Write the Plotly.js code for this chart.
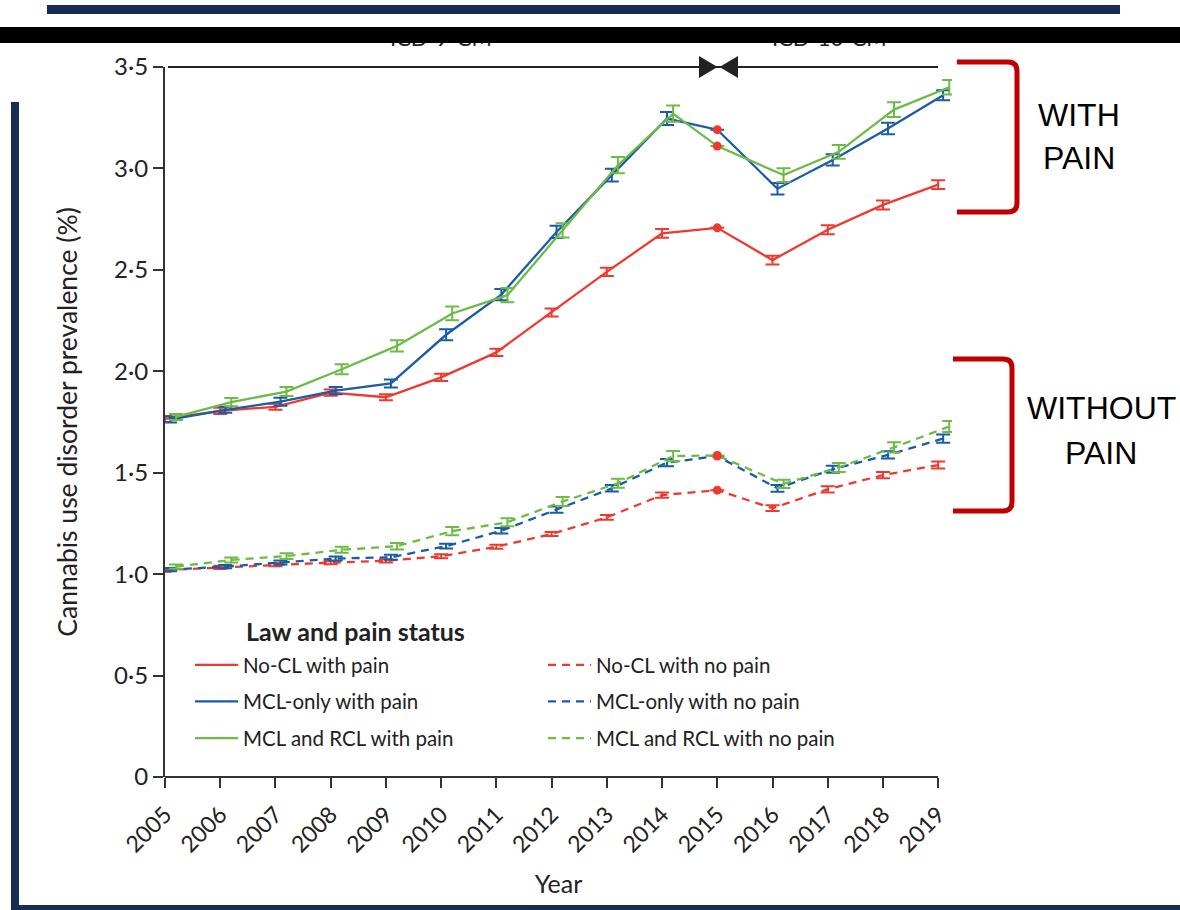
<!DOCTYPE html>
<html><head><meta charset="utf-8">
<script src="https://cdn.plot.ly/plotly-3.0.1.min.js"></script>
<style>html,body{margin:0;padding:0;background:#fff}#chart{width:1180px;height:910px}</style>
</head><body><div id="chart"></div>
<script>
// ---------- data ----------
const years = [2005,2006,2007,2008,2009,2010,2011,2012,2013,2014,2015,2016,2017,2018,2019];
const yTickVals = [0,0.5,1,1.5,2,2.5,3,3.5];
const yTickText = ['0','0·5','1·0','1·5','2·0','2·5','3·0','3·5'];

const noclPain   = [1.765,1.805,1.825,1.895,1.872,1.970,2.093,2.290,2.490,2.680,2.707,2.548,2.698,2.820,2.920];
const mclPain    = [1.762,1.810,1.850,1.905,1.940,2.180,2.378,2.687,2.967,3.246,3.191,2.900,3.042,3.197,3.361];
const rclPain    = [1.775,1.848,1.900,2.010,2.125,2.285,2.375,2.695,3.016,3.270,3.110,2.967,3.082,3.290,3.400];
const noclNoPain = [1.020,1.033,1.047,1.057,1.066,1.088,1.135,1.198,1.280,1.390,1.414,1.325,1.418,1.488,1.538];
const mclNoPain  = [1.022,1.037,1.057,1.077,1.083,1.138,1.214,1.318,1.423,1.550,1.582,1.423,1.517,1.588,1.668];
const rclNoPain  = [1.037,1.070,1.089,1.120,1.138,1.212,1.256,1.358,1.448,1.582,1.585,1.445,1.526,1.625,1.728];

// half-width of 95% CI (none drawn for 2015)
const noclPainErr   = [0.015,0.015,0.015,0.015,0.015,0.018,0.018,0.020,0.020,0.022,null,0.022,0.022,0.022,0.022];
const mclPainErr    = [0.015,0.015,0.020,0.018,0.020,0.027,0.028,0.030,0.032,0.032,null,0.028,0.028,0.028,0.025];
const rclPainErr    = [0.015,0.020,0.022,0.025,0.028,0.034,0.035,0.035,0.040,0.040,null,0.034,0.034,0.036,0.036];
const noclNoPainErr = [0.008,0.008,0.008,0.008,0.008,0.010,0.010,0.010,0.012,0.013,null,0.014,0.015,0.015,0.017];
const mclNoPainErr  = [0.008,0.008,0.010,0.010,0.012,0.012,0.014,0.015,0.016,0.018,null,0.017,0.017,0.018,0.020];
const rclNoPainErr  = [0.010,0.012,0.014,0.015,0.016,0.020,0.020,0.022,0.022,0.025,null,0.020,0.022,0.025,0.027];

const seriesNames = ['No-CL with pain','No-CL with no pain','MCL-only with pain','MCL-only with no pain','MCL and RCL with pain','MCL and RCL with no pain'];

// ---------- styles ----------
const RED = '#ee3a2e', BLUE = '#1a5da6', GREEN = '#6dbb45', DARKRED = '#c00000', NAVY = '#172d54';
const FONT = 'Lato, "Open Sans", sans-serif';
const TXT = '#222';

const L = 165, R = 228, T = 67, B = 133, WID = 1180, HEI = 910;
const W = WID - L - R, H = HEI - T - B;
const px = x => (x - L) / W;
const py = y => 1 - (y - T) / H;
const i2015 = years.indexOf(2015);

function dodge(off) { return years.map((y, i) => i === i2015 ? y : y + off); }

const defs = [
  {name: seriesNames[0], y: noclPain,   e: noclPainErr,   c: RED,   dash: 'solid', off: 0,    lg: 'legend'},
  {name: seriesNames[1], y: noclNoPain, e: noclNoPainErr, c: RED,   dash: '8px,6px', off: 0,  lg: 'legend2'},
  {name: seriesNames[2], y: mclPain,    e: mclPainErr,    c: BLUE,  dash: 'solid', off: 0.09, lg: 'legend'},
  {name: seriesNames[3], y: mclNoPain,  e: mclNoPainErr,  c: BLUE,  dash: '8px,6px', off: 0.09, lg: 'legend2'},
  {name: seriesNames[4], y: rclPain,    e: rclPainErr,    c: GREEN, dash: 'solid', off: 0.2,  lg: 'legend'},
  {name: seriesNames[5], y: rclNoPain,  e: rclNoPainErr,  c: GREEN, dash: '8px,6px', off: 0.2, lg: 'legend2'}
];

const traces = defs.map(d => ({
  type: 'scatter', mode: 'lines', name: d.name,
  x: dodge(d.off), y: d.y,
  line: {color: d.c, width: 2.3, dash: d.dash},
  error_y: {type: 'data', array: d.e, visible: true, color: d.c, thickness: 2, width: 7},
  legend: d.lg, legendgroup: d.name, cliponaxis: false, hoverinfo: 'x+y+name'
}));
// ICD transition points (2015) drawn as red dots
traces.push({
  type: 'scatter', mode: 'markers', showlegend: false, cliponaxis: false,
  x: defs.map(() => 2015), y: defs.map(d => d.y[i2015]),
  marker: {color: RED, size: 9}, hoverinfo: 'skip'
});

function rect(x0, y0, x1, y1, color) {
  return {type: 'rect', xref: 'paper', yref: 'paper', x0: px(x0), x1: px(x1), y0: py(y0), y1: py(y1),
          fillcolor: color, line: {width: 0}, layer: 'above'};
}
function pathPx(pts, opts) {
  const p = pts.map(s => s[0] === 'Z' ? 'Z' : s[0] + ' ' + s.slice(1).map((v, k) => (k % 2 === 0 ? px(v) : py(v)).toFixed(5)).join(',')).join(' ');
  return Object.assign({type: 'path', xref: 'paper', yref: 'paper', path: p, layer: 'above'}, opts);
}
function bracket(xl, xr, yt, yb) {
  const r = 9;
  return pathPx([['M', xl, yt], ['L', xr - r, yt], ['Q', xr, yt, xr, yt + r], ['L', xr, yb - r], ['Q', xr, yb, xr - r, yb], ['L', xl, yb]],
    {line: {color: DARKRED, width: 5}});
}

const shapes = [
  rect(47, 5, 1120, 14, NAVY),
  rect(11, 102, 19, 910, NAVY),
  rect(11, 905, 1180, 910, NAVY),
  // ICD period line at top
  {type: 'line', xref: 'paper', yref: 'paper', x0: px(168), x1: px(938), y0: py(67), y1: py(67), line: {color: '#222', width: 2}, layer: 'above'},
  pathPx([['M', 699, 56], ['L', 717.5, 67], ['L', 699, 78], ['Z']], {fillcolor: '#222', line: {width: 0}}),
  pathPx([['M', 738, 56], ['L', 719.5, 67], ['L', 738, 78], ['Z']], {fillcolor: '#222', line: {width: 0}}),
  // x axis line
  {type: 'line', xref: 'paper', yref: 'paper', x0: px(165), x1: px(938), y0: py(777), y1: py(777), line: {color: '#333', width: 2}, layer: 'above'},
  bracket(957, 1017, 62, 212),
  bracket(953, 1012, 359, 511)
];

function ann(text, x, y, size, opts) {
  return Object.assign({text: text, xref: 'paper', yref: 'paper', x: px(x), y: py(y), xanchor: 'center', yanchor: 'middle',
    showarrow: false, font: {family: FONT, size: size, color: TXT}}, opts || {});
}
const BIG = {family: '"Liberation Sans", Arial, sans-serif', size: 32, color: '#000'};
const annotations = [
  ann('ICD-9-CM', 441, 37, 22),
  ann('ICD-10-CM', 829, 37, 22),
  {text: ' ', xref: 'paper', yref: 'paper', x: px(0), y: py(27), xanchor: 'left', yanchor: 'top', showarrow: false,
   width: 1180, height: 16, bgcolor: '#000', borderpad: 0, borderwidth: 0, font: {size: 10}},
  ann('<b>Law and pain status</b>', 244, 631, 25, {xanchor: 'left'}),
  ann('WITH', 1079, 115, 32, {font: BIG}),
  ann('PAIN', 1079, 158, 32, {font: BIG}),
  ann('WITHOUT', 1101, 408, 32, {font: BIG}),
  ann('PAIN', 1101, 453, 32, {font: BIG})
];

const legendBase = {
  orientation: 'v', xanchor: 'left', yanchor: 'top', bgcolor: 'rgba(0,0,0,0)',
  font: {family: FONT, size: 20.5, color: TXT}, itemwidth: 43, tracegroupgap: 7, itemclick: false, itemdoubleclick: false
};

const layout = {
  width: WID, height: HEI,
  margin: {l: L, r: R, t: T, b: B},
  paper_bgcolor: '#fff', plot_bgcolor: '#fff',
  font: {family: FONT, size: 20, color: TXT},
  showlegend: true,
  legend: Object.assign({}, legendBase, {x: px(190), y: py(645)}),
  legend2: Object.assign({}, legendBase, {x: px(543), y: py(645)}),
  xaxis: {
    range: [2005, 2019.25], tickvals: years, ticktext: years.map(String), tickangle: -45,
    ticks: 'outside', ticklen: 10, tickwidth: 2, tickcolor: '#333', ticklabelstandoff: 4,
    showline: false, showgrid: false, zeroline: false,
    tickfont: {family: FONT, size: 23, color: TXT},
    title: {text: 'Year', font: {family: FONT, size: 25, color: TXT}, standoff: 18}
  },
  yaxis: {
    range: [0, 3.5], tickvals: yTickVals, ticktext: yTickText,
    ticks: 'outside', ticklen: 10, tickwidth: 2, tickcolor: '#333',
    showline: true, linewidth: 2, linecolor: '#333', showgrid: false, zeroline: false,
    tickfont: {family: FONT, size: 24, color: TXT},
    title: {text: 'Cannabis use disorder prevalence (%)', font: {family: FONT, size: 26.5, color: TXT}, standoff: 29}
  },
  shapes: shapes,
  annotations: annotations
};

Plotly.newPlot('chart', traces, layout, {displayModeBar: false, staticPlot: false});
</script>
</body></html>
